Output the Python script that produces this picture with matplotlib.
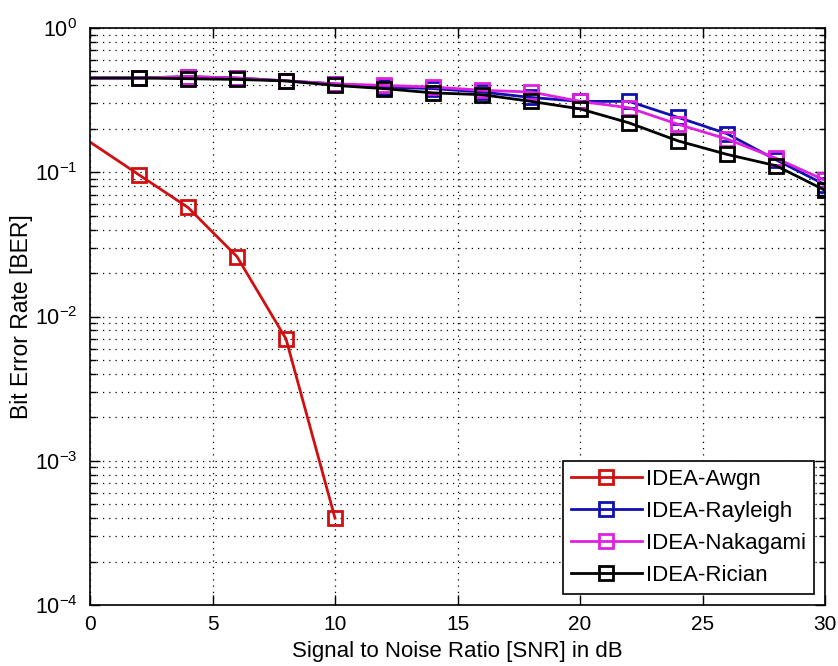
import matplotlib
matplotlib.use("Agg")
import matplotlib.pyplot as plt
from matplotlib.ticker import LogLocator, NullFormatter, MultipleLocator

plt.rcParams['font.family'] = ['Liberation Sans', 'DejaVu Sans']
plt.rcParams['mathtext.fontset'] = 'custom'
plt.rcParams['mathtext.rm'] = 'Liberation Sans'
plt.rcParams['mathtext.it'] = 'Liberation Sans'

snr_awgn = [0, 2, 4, 6, 8, 10]
ber_awgn = [0.162, 0.096, 0.057, 0.026, 0.007, 0.0004]

snr_fade = [0, 2, 4, 6, 8, 10, 12, 14, 16, 18, 20, 22, 24, 26, 28, 30]
ber_rayleigh = [0.45, 0.45, 0.46, 0.45, 0.43, 0.41, 0.39, 0.38, 0.36, 0.33, 0.31, 0.31, 0.24, 0.185, 0.122, 0.082]
ber_nakagami = [0.45, 0.45, 0.46, 0.45, 0.43, 0.41, 0.40, 0.39, 0.37, 0.36, 0.31, 0.28, 0.215, 0.17, 0.125, 0.088]
ber_rician = [0.45, 0.45, 0.445, 0.44, 0.43, 0.40, 0.38, 0.355, 0.345, 0.31, 0.275, 0.22, 0.165, 0.133, 0.111, 0.075]

labels = ['IDEA-Awgn', 'IDEA-Rayleigh', 'IDEA-Nakagami', 'IDEA-Rician']
colors = ['#d01010', '#1010b0', '#e020e0', '#000000']

fig = plt.figure(figsize=(8.38, 6.66), dpi=100)
ax = fig.add_axes([90/838, 1-605/666, 735/838, 577/666])

series = [(snr_awgn, ber_awgn), (snr_fade, ber_rayleigh), (snr_fade, ber_nakagami), (snr_fade, ber_rician)]
for (xs, ys), lab, c in zip(series, labels, colors):
    ax.plot(xs, ys, '-s', color=c, lw=2, ms=10, mfc='none', mec=c, mew=2,
            markevery=slice(1, None), label=lab)

ax.set_yscale('log')
ax.set_xlim(0, 30)
ax.set_ylim(1e-4, 1)
ax.xaxis.set_major_locator(MultipleLocator(5))
ax.yaxis.set_major_locator(LogLocator(base=10, numticks=10))
ax.yaxis.set_minor_locator(LogLocator(base=10, subs=range(2, 10), numticks=20))
ax.yaxis.set_minor_formatter(NullFormatter())

ax.grid(True, which='major', axis='both', color='black', linestyle=(0, (1, 4)), linewidth=0.9)
ax.grid(True, which='minor', axis='y', color='black', linestyle=(0, (1, 4)), linewidth=0.9)
ax.set_axisbelow(True)

ax.tick_params(which='both', direction='in', top=True, right=True, width=1)
ax.tick_params(axis='x', labelsize=15, pad=7)
ax.tick_params(axis='y', labelsize=15.5, pad=9)
ax.tick_params(which='major', length=7)
ax.tick_params(which='minor', length=4)
for s in ax.spines.values():
    s.set_linewidth(1.2)

ax.set_xlabel('Signal to Noise Ratio [SNR] in dB', fontsize=16)
ax.set_ylabel('Bit Error Rate [BER]', fontsize=16.5)
ax.xaxis.set_label_coords(0.5, -0.063)
ax.yaxis.set_label_coords(-0.077, 0.5)

leg = ax.legend(loc='lower right', fontsize=16, fancybox=False, framealpha=1,
                edgecolor='black', handlelength=3.2, borderpad=0.35, labelspacing=0.5,
                handletextpad=0.2, borderaxespad=0.5)
leg.get_frame().set_linewidth(1.2)

fig.savefig('out.png', dpi=100)
